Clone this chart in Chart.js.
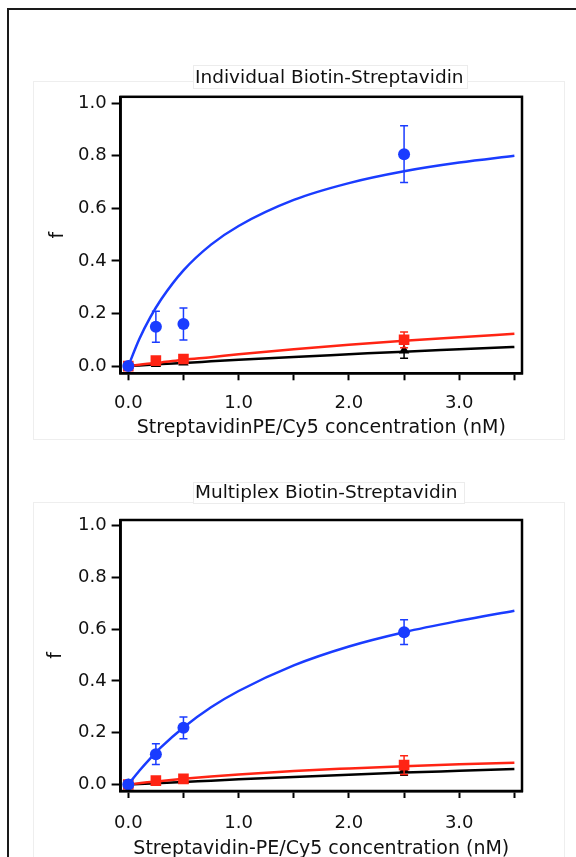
<!DOCTYPE html>
<html><head><meta charset="utf-8">
<script src="https://cdn.jsdelivr.net/npm/chart.js@4.4.1/dist/chart.umd.min.js"></script>
<style>
html,body{margin:0;padding:0;background:#fff;overflow:hidden;width:576px;height:857px;position:relative;}
#frame{position:absolute;left:7px;top:8px;width:600px;height:900px;border-left:2px solid #1a1a1a;border-top:2px solid #1a1a1a;border-right:none;border-bottom:none;}
.panel{position:absolute;border:1px solid #eeeeee;}
canvas{position:absolute;left:0;}
</style></head><body>
<div id="frame"></div>
<div class="panel" style="left:33px;top:81px;width:530px;height:357px"></div>
<div class="panel" style="left:33px;top:502px;width:530px;height:420px"></div>
<canvas id="c1" width="576" height="450" style="top:0;width:576px;height:450px"></canvas>
<canvas id="c2" width="576" height="407" style="top:450px;width:576px;height:407px"></canvas>
<script>
// ---- data ----
const concentrations = [0, 0.25, 0.5, 2.5];
const xTickLabelsStep = 1.0;
const yTickLabelsStep = 0.2;
const fitX = [0, 0.1, 0.2, 0.3, 0.5, 0.75, 1.0, 1.5, 2.0, 2.5, 3.0, 3.5];

// Individual Biotin-Streptavidin
const indBlue      = [0.0, 0.150, 0.160, 0.806];
const indBlueErr   = [0.008, 0.059, 0.061, 0.108];
const indRed       = [0.0, 0.021, 0.027, 0.100];
const indRedErr    = [0.006, 0.006, 0.007, 0.030];
const indBlack     = [0.0, 0.008, 0.014, 0.059];
const indBlackErr  = [0.004, 0.005, 0.006, 0.029];
const indBlueFit   = [0, 0.103, 0.186, 0.255, 0.364, 0.462, 0.533, 0.632, 0.696, 0.741, 0.774, 0.800];
const indRedFit    = [0, 0.005, 0.010, 0.014, 0.024, 0.034, 0.045, 0.064, 0.081, 0.096, 0.110, 0.123];
const indBlackFit  = [0, 0.0025, 0.005, 0.0075, 0.012, 0.018, 0.024, 0.035, 0.045, 0.055, 0.064, 0.073];

// Multiplex Biotin-Streptavidin
const mulBlue      = [0.0, 0.117, 0.219, 0.588];
const mulBlueErr   = [0.008, 0.040, 0.042, 0.048];
const mulRed       = [0.0, 0.015, 0.022, 0.075];
const mulRedErr    = [0.006, 0.006, 0.007, 0.036];
const mulBlack     = [0.0, 0.008, 0.014, 0.056];
const mulBlackErr  = [0.004, 0.005, 0.006, 0.020];
const mulBlueFit   = [0, 0.053, 0.101, 0.145, 0.220, 0.298, 0.361, 0.460, 0.533, 0.588, 0.632, 0.671];
const mulRedFit    = [0, 0.005, 0.010, 0.014, 0.022, 0.031, 0.039, 0.052, 0.062, 0.071, 0.078, 0.084];
const mulBlackFit  = [0, 0.002, 0.004, 0.006, 0.010, 0.015, 0.020, 0.029, 0.038, 0.046, 0.053, 0.060];

// ---- styling ----
const FONT = "'DejaVu Sans', Verdana, sans-serif";
const BLUE = '#1a3cff', RED = '#ff2414', BLACK = '#000000';

const pts = (xs, ys) => xs.map((x, i) => ({x: x, y: ys[i]}));

const errorBarPlugin = {
  id: 'errorBars',
  beforeDatasetDraw(chart, args) {
    const ds = chart.data.datasets[args.index];
    if (!ds.errorBars) return;
    const ctx = chart.ctx, xs = chart.scales.x, ys = chart.scales.y;
    ctx.save();
    ctx.strokeStyle = ds.borderColor;
    ctx.lineWidth = 1.5;
    ds.data.forEach((p, i) => {
      const e = ds.errorBars[i];
      if (!e) return;
      const px = xs.getPixelForValue(p.x);
      const t = ys.getPixelForValue(p.y + e), b = ys.getPixelForValue(p.y - e);
      ctx.beginPath();
      ctx.moveTo(px, t); ctx.lineTo(px, b);
      ctx.moveTo(px - 4, t); ctx.lineTo(px + 4, t);
      ctx.moveTo(px - 4, b); ctx.lineTo(px + 4, b);
      ctx.stroke();
    });
    ctx.restore();
  }
};

const framePlugin = {
  id: 'frameBox',
  afterDraw(chart) {
    const {ctx, chartArea: a} = chart;
    ctx.save();
    ctx.strokeStyle = '#000';
    ctx.lineWidth = 2.5;
    ctx.strokeRect(a.left, a.top, a.right - a.left, a.bottom - a.top);
    ctx.restore();
  }
};

const titleBoxPlugin = {
  id: 'titleBox',
  afterDraw(chart, args, o) {
    const ctx = chart.ctx;
    ctx.save();
    ctx.fillStyle = '#ffffff';
    ctx.fillRect(o.box[0], o.box[1], o.box[2], o.box[3]);
    ctx.strokeStyle = '#ececec';
    ctx.lineWidth = 1;
    ctx.strokeRect(o.box[0] + 0.5, o.box[1] + 0.5, o.box[2], o.box[3]);
    ctx.fillStyle = '#111';
    ctx.font = '18.5px ' + FONT;
    ctx.textAlign = 'left';
    ctx.textBaseline = 'alphabetic';
    ctx.fillText(o.text, o.x, o.baseline);
    ctx.restore();
  }
};

function makeChart(id, cfg) {
  const datasets = [
    {label: 'blue fit', data: pts(fitX, cfg.blueFit), showLine: true, borderColor: BLUE, borderWidth: 2.5, pointRadius: 0, cubicInterpolationMode: 'monotone', order: 0},
    {label: 'blue', data: pts(concentrations, cfg.blue), errorBars: cfg.blueErr, borderColor: BLUE, backgroundColor: BLUE, pointStyle: 'circle', pointRadius: 6, pointBorderWidth: 0, order: 1},
    {label: 'red fit', data: pts(fitX, cfg.redFit), showLine: true, borderColor: RED, borderWidth: 2.5, pointRadius: 0, cubicInterpolationMode: 'monotone', order: 2},
    {label: 'red', data: pts(concentrations, cfg.red), errorBars: cfg.redErr, borderColor: RED, backgroundColor: RED, pointStyle: 'rect', pointRadius: 7.5, pointBorderWidth: 0, order: 3},
    {label: 'black fit', data: pts(fitX, cfg.blackFit), showLine: true, borderColor: BLACK, borderWidth: 2.5, pointRadius: 0, cubicInterpolationMode: 'monotone', order: 4},
    {label: 'black', data: pts(concentrations, cfg.black), errorBars: cfg.blackErr, borderColor: BLACK, backgroundColor: BLACK, pointStyle: 'triangle', pointRadius: 6, pointBorderWidth: 0, order: 5}
  ];
  return new Chart(document.getElementById(id), {
    type: 'scatter',
    data: {datasets},
    plugins: [errorBarPlugin, framePlugin, titleBoxPlugin],
    options: {
      responsive: false,
      animation: false,
      devicePixelRatio: 1,
      layout: {padding: {left: 0, right: 54, top: cfg.top, bottom: 0}},
      plugins: {
        legend: {display: false},
        tooltip: {enabled: false},
        titleBox: cfg.title
      },
      scales: {
        x: {
          type: 'linear', position: 'bottom',
          min: -0.0698, max: 3.569,
          afterFit: s => { s.height = cfg.xAxisH; },
          border: {display: true, color: '#000', width: 2.5},
          grid: {display: true, drawOnChartArea: false, drawTicks: true, tickLength: 7, tickWidth: 2, tickColor: '#000'},
          ticks: {
            stepSize: 0.5, includeBounds: false, autoSkip: false, maxRotation: 0,
            padding: cfg.xTickPad, color: '#111',
            font: {family: FONT, size: 18, lineHeight: 1},
            callback: v => Math.abs(v / xTickLabelsStep - Math.round(v / xTickLabelsStep)) < 1e-6 ? v.toFixed(1) : ''
          },
          title: {display: true, text: cfg.xTitle, color: '#111', font: {family: FONT, size: 19, lineHeight: 1}, padding: {top: 0, bottom: cfg.xTitlePad}}
        },
        y: {
          type: 'linear', position: 'left',
          min: cfg.yMin, max: cfg.yMax,
          afterFit: s => { s.width = 120.6; },
          border: {display: true, color: '#000', width: 2.5},
          grid: {display: true, drawOnChartArea: false, drawTicks: true, tickLength: 9, tickWidth: 2, tickColor: '#000'},
          ticks: {
            stepSize: yTickLabelsStep, includeBounds: false, autoSkip: false,
            padding: 5, color: '#111',
            font: {family: FONT, size: 18, lineHeight: 1},
            callback: v => v.toFixed(1)
          },
          title: {display: true, text: 'f', color: '#111', font: {family: FONT, size: 19, lineHeight: 1}, padding: {top: cfg.yTitlePad, bottom: 0}}
        }
      }
    }
  });
}

makeChart('c1', {
  blue: indBlue, blueErr: indBlueErr, red: indRed, redErr: indRedErr, black: indBlack, blackErr: indBlackErr,
  blueFit: indBlueFit, redFit: indRedFit, blackFit: indBlackFit,
  top: 96.8, xAxisH: 76.7, yMin: -0.0274, yMax: 1.0243,
  xTickPad: 14.3, xTitlePad: 12.1, yTitlePad: 49,
  xTitle: 'StreptavidinPE/Cy5 concentration (nM)',
  title: {text: 'Individual Biotin-Streptavidin', x: 195, baseline: 83, box: [193, 65, 274, 23]}
});

makeChart('c2', {
  blue: mulBlue, blueErr: mulBlueErr, red: mulRed, redErr: mulRedErr, black: mulBlack, blackErr: mulBlackErr,
  blueFit: mulBlueFit, redFit: mulRedFit, blackFit: mulBlackFit,
  top: 70, xAxisH: 66, yMin: -0.025, yMax: 1.021,
  xTickPad: 16.2, xTitlePad: -1.5, yTitlePad: 46.5,
  xTitle: 'Streptavidin-PE/Cy5 concentration (nM)',
  title: {text: 'Multiplex Biotin-Streptavidin', x: 195, baseline: 48.3, box: [193, 32, 271, 21]}
});
</script>
</body></html>
